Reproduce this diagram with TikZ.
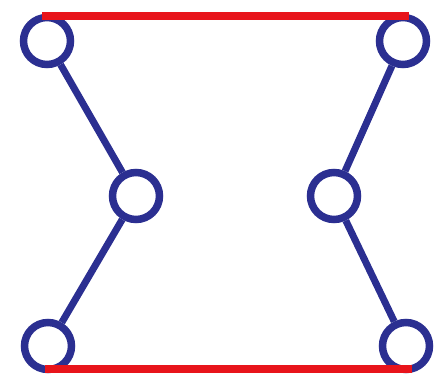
\documentclass[tikz,border=0pt]{standalone}
\definecolor{navy}{RGB}{43,47,145}
\definecolor{bred}{RGB}{232,20,27}
\begin{document}
\begin{tikzpicture}[x=1pt,y=-1pt,
  joint/.style={circle,draw=navy,line width=7.5pt,minimum size=47pt,inner sep=0pt,fill=white},
  link/.style={draw=navy,line width=7pt},
  bar/.style={draw=bred,line width=8pt}]
\useasboundingbox (0,0) rectangle (437,377);
\node[joint] (tl) at (47,41) {};
\node[joint] (tr) at (403,41) {};
\node[joint] (ml) at (136,196) {};
\node[joint] (mr) at (334,196) {};
\node[joint] (bl) at (48,346) {};
\node[joint] (br) at (406,346) {};
\draw[link] (tl) -- (ml);
\draw[link] (ml) -- (bl);
\draw[link] (tr) -- (mr);
\draw[link] (mr) -- (br);
\draw[bar] ([xshift=-5pt,yshift=-2pt]tl.north) -- ([xshift=6pt,yshift=-2pt]tr.north);
\draw[bar] ([xshift=-3pt,yshift=4pt]bl.south) -- ([xshift=6pt,yshift=4pt]br.south);
\end{tikzpicture}
\end{document}
